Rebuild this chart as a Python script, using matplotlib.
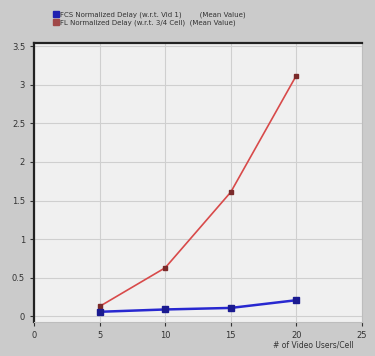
import matplotlib.pyplot as plt
from matplotlib.lines import Line2D

# users per cell and mean normalized delay for the two schemes
users = [5, 10, 15, 20]
delay_fcs = [0.06, 0.09, 0.11, 0.21]
delay_fl = [0.13, 0.63, 1.61, 3.12]

series_names = [
    "FCS Normalized Delay (w.r.t. Vid 1)        (Mean Value)",
    "FL Normalized Delay (w.r.t. 3/4 Cell)  (Mean Value)",
]
x_ticks = [0, 5, 10, 15, 20, 25]
y_ticks = [0, 0.5, 1, 1.5, 2, 2.5, 3, 3.5]
y_labels = ["0", "0.5", "1", "1.5", "2", "2.5", "3", "3.5"]

fig = plt.figure(figsize=(3.75, 3.56), dpi=100)
fig.patch.set_facecolor("#cbcbcb")
ax = fig.add_axes([0.091, 0.096, 0.874, 0.783])
ax.set_facecolor("#f0f0f0")

ax.plot(users, delay_fl, color="#d84a4a", lw=1.2, marker="s", ms=3,
        mfc="#7a2a2a", mec="#7a2a2a", zorder=3)
ax.plot(users, delay_fcs, color="#2828d0", lw=1.8, marker="s", ms=4,
        mfc="#1a1a90", mec="#1a1a90", zorder=3)

ax.set_xlim(0, 25)
ax.set_ylim(-0.07, 3.54)
ax.set_xticks(x_ticks)
ax.set_yticks(y_ticks)
ax.set_yticklabels(y_labels)
ax.tick_params(labelsize=6, colors="#333333", length=3, width=0.8)
ax.grid(True, color="#cfcfcf", lw=0.8)

for side in ["left", "top"]:
    ax.spines[side].set_color("#222222")
    ax.spines[side].set_linewidth(1.6)
for side in ["right", "bottom"]:
    ax.spines[side].set_color("#bdbdbd")
    ax.spines[side].set_linewidth(0.8)

fig.text(0.835, 0.03, "# of Video Users/Cell", fontsize=5.5,
         color="#333333", ha="center", va="center")

handles = [
    Line2D([], [], ls="none", marker="s", ms=5, mfc="#2020b0", mec="#2020b0"),
    Line2D([], [], ls="none", marker="s", ms=5, mfc="#a04848", mec="#a04848"),
]
fig.legend(handles, series_names, loc="upper left",
           bbox_to_anchor=(0.135, 0.975), frameon=False, fontsize=5,
           handletextpad=0.1, labelspacing=0.25, borderaxespad=0,
           handlelength=0.8, labelcolor="#333333")

fig.savefig("out.png", dpi=100, facecolor=fig.get_facecolor())
